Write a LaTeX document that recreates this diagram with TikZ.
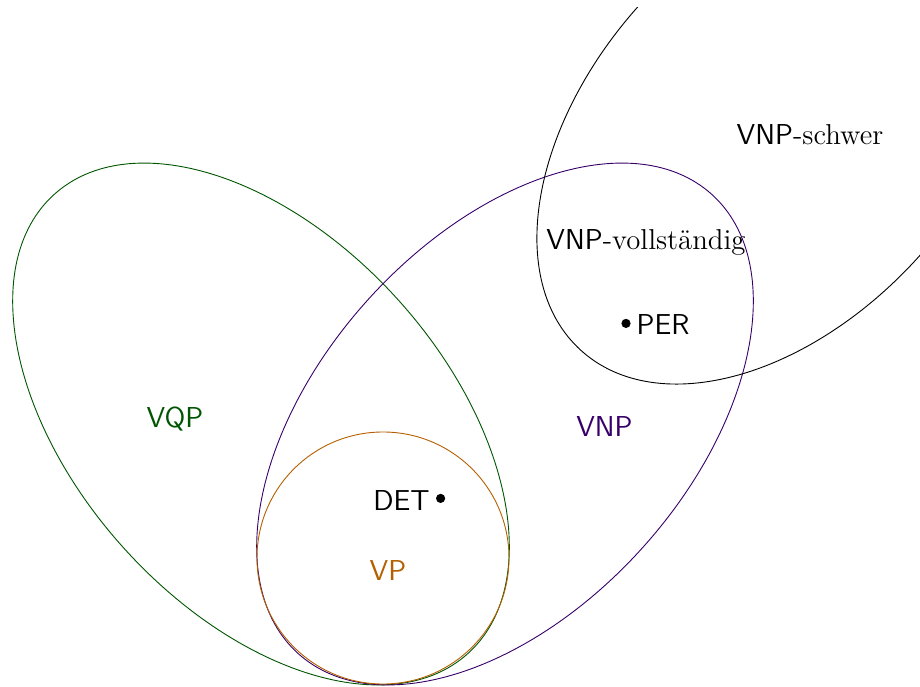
\documentclass[tikz,border=0pt]{standalone}
\usepackage{fontspec}
\definecolor{vqpcol}{RGB}{0,85,0}
\definecolor{vnpcol}{RGB}{55,0,105}
\definecolor{vpcol}{RGB}{180,95,0}
\begin{document}
\begin{tikzpicture}[x=1pt,y=1pt,
  lab/.style={font=\sffamily\fontsize{14.4}{17}\selectfont, anchor=base, inner sep=0pt},
  rlab/.style={font=\fontsize{14.4}{17}\selectfont, anchor=base, inner sep=0pt},
  dot/.style={circle, fill=black, inner sep=0pt, minimum size=4.6pt},
  set/.style={line width=0.45pt}]
\useasboundingbox (0,0) rectangle (460,343);
% sets
\draw[set, vqpcol, rotate around={-48:(130.5,131)}] (130.5,131) ellipse [x radius=154.5pt, y radius=92.5pt];
\draw[set, vnpcol, rotate around={48:(252.5,131)}] (252.5,131) ellipse [x radius=154.5pt, y radius=92.5pt];
\draw[set, vpcol] (191.5,64) circle [radius=63pt];
\begin{scope}
  \clip (0,0) rectangle (460,339);
  \draw[set, black, rotate around={48:(389.7,277.75)}] (389.7,277.75) ellipse [x radius=148.1pt, y radius=94pt];
\end{scope}
% labels
\node[rlab] (schwer) at (405,270.6) {\textsf{VNP}-schwer};
\node[rlab] (voll) at (323,218) {\textsf{VNP}-vollständig};
\node[lab, text=vqpcol] (vqp) at (87.5,129.3) {VQP};
\node[lab, text=vnpcol] (vnp) at (302.25,125) {VNP};
\node[lab, text=vpcol] (vp) at (194,53) {VP};
\node[lab] (det) at (200.75,88) {DET};
\node[dot] (detdot) at (220.3,93.8) {};
\node[lab] (per) at (331.5,175.5) {PER};
\node[dot] (perdot) at (313,181.3) {};
\end{tikzpicture}
\end{document}
